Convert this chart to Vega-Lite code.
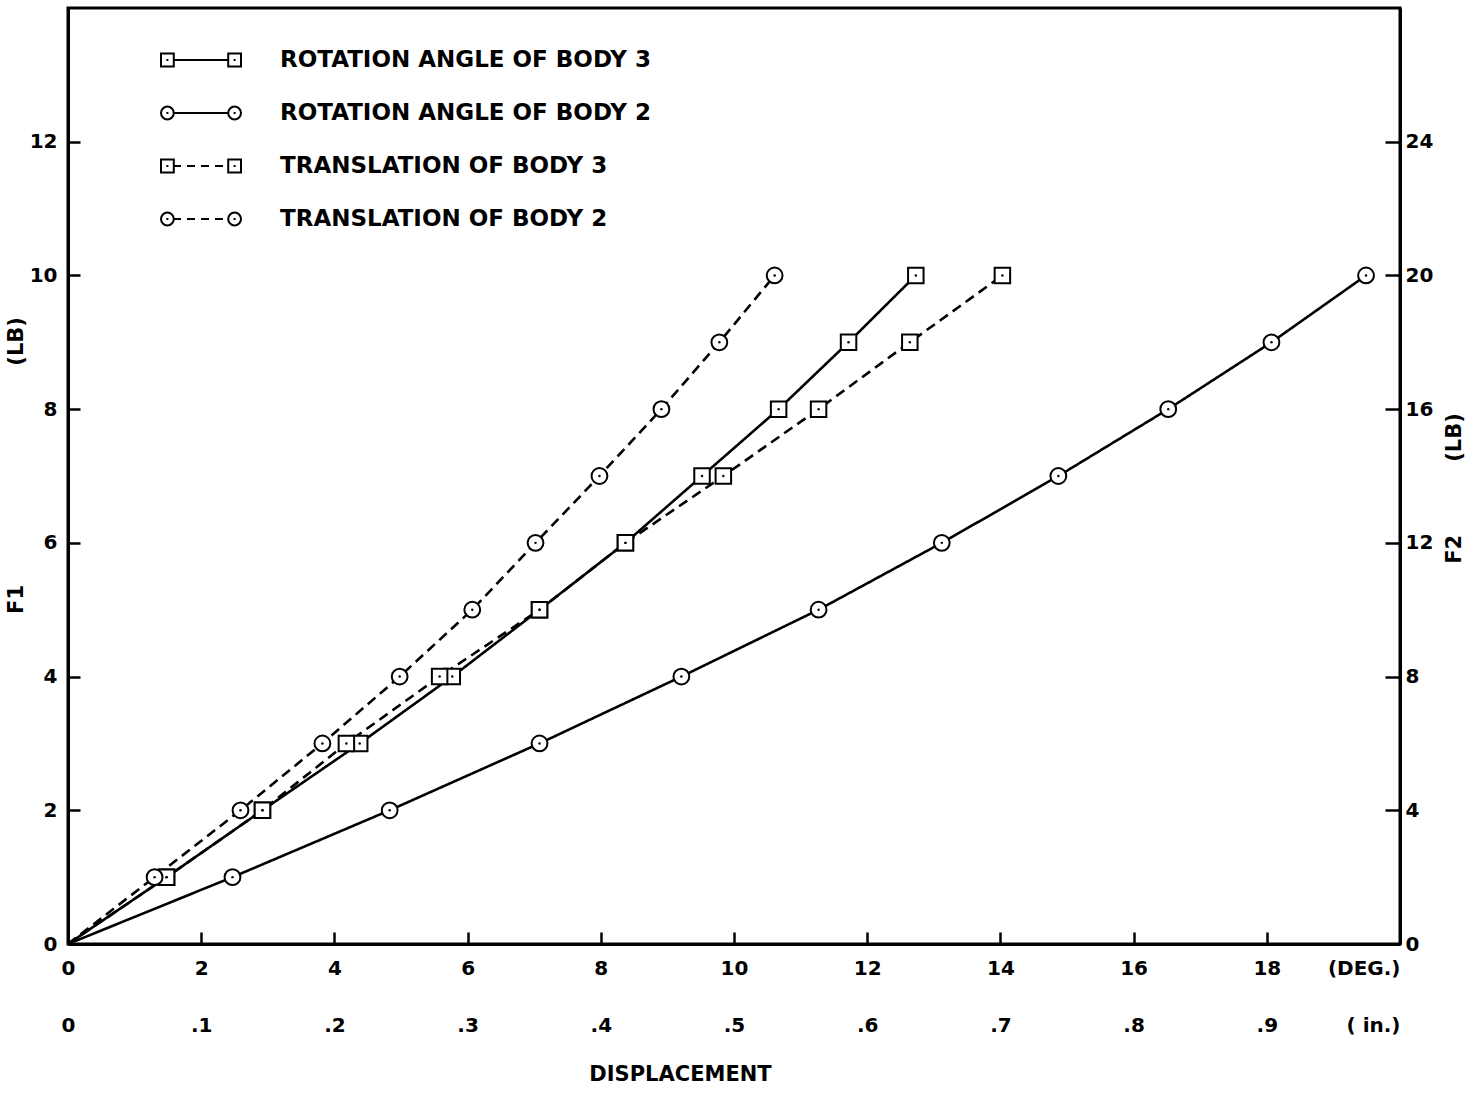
{
  "$schema": "https://vega.github.io/schema/vega-lite/v6.json",
  "width": 1332,
  "height": 936,
  "autosize": {"type": "none"},
  "padding": {"left": 68, "top": 8, "right": 75, "bottom": 150},
  "background": "white",
  "config": {
    "view": {"stroke": "black", "strokeWidth": 3},
    "font": "DejaVu Sans",
    "axis": {
      "domainColor": "black", "domainWidth": 3,
      "tickColor": "black", "tickWidth": 2.5,
      "labelColor": "black", "labelFont": "DejaVu Sans", "labelFontWeight": "bold", "labelFontSize": 20,
      "titleFont": "DejaVu Sans", "titleFontWeight": "bold", "titleFontSize": 21, "titleColor": "black",
      "grid": false
    },
    "legend": {
      "labelFont": "DejaVu Sans", "labelFontWeight": "bold", "labelFontSize": 23, "labelColor": "black", "labelLimit": 0
    }
  },
  "data": {
    "values": [
      {"series": "ROTATION ANGLE OF BODY 3", "x": 0, "F1": 0},
      {"series": "ROTATION ANGLE OF BODY 3", "x": 1.48, "F1": 1},
      {"series": "ROTATION ANGLE OF BODY 3", "x": 2.92, "F1": 2},
      {"series": "ROTATION ANGLE OF BODY 3", "x": 4.38, "F1": 3},
      {"series": "ROTATION ANGLE OF BODY 3", "x": 5.77, "F1": 4},
      {"series": "ROTATION ANGLE OF BODY 3", "x": 7.08, "F1": 5},
      {"series": "ROTATION ANGLE OF BODY 3", "x": 8.37, "F1": 6},
      {"series": "ROTATION ANGLE OF BODY 3", "x": 9.52, "F1": 7},
      {"series": "ROTATION ANGLE OF BODY 3", "x": 10.67, "F1": 8},
      {"series": "ROTATION ANGLE OF BODY 3", "x": 11.72, "F1": 9},
      {"series": "ROTATION ANGLE OF BODY 3", "x": 12.73, "F1": 10},
      {"series": "ROTATION ANGLE OF BODY 2", "x": 0, "F1": 0},
      {"series": "ROTATION ANGLE OF BODY 2", "x": 2.47, "F1": 1},
      {"series": "ROTATION ANGLE OF BODY 2", "x": 4.83, "F1": 2},
      {"series": "ROTATION ANGLE OF BODY 2", "x": 7.08, "F1": 3},
      {"series": "ROTATION ANGLE OF BODY 2", "x": 9.21, "F1": 4},
      {"series": "ROTATION ANGLE OF BODY 2", "x": 11.27, "F1": 5},
      {"series": "ROTATION ANGLE OF BODY 2", "x": 13.12, "F1": 6},
      {"series": "ROTATION ANGLE OF BODY 2", "x": 14.87, "F1": 7},
      {"series": "ROTATION ANGLE OF BODY 2", "x": 16.52, "F1": 8},
      {"series": "ROTATION ANGLE OF BODY 2", "x": 18.07, "F1": 9},
      {"series": "ROTATION ANGLE OF BODY 2", "x": 19.49, "F1": 10},
      {"series": "TRANSLATION OF BODY 3", "x": 0, "F1": 0},
      {"series": "TRANSLATION OF BODY 3", "x": 1.48, "F1": 1},
      {"series": "TRANSLATION OF BODY 3", "x": 2.92, "F1": 2},
      {"series": "TRANSLATION OF BODY 3", "x": 4.18, "F1": 3},
      {"series": "TRANSLATION OF BODY 3", "x": 5.58, "F1": 4},
      {"series": "TRANSLATION OF BODY 3", "x": 7.08, "F1": 5},
      {"series": "TRANSLATION OF BODY 3", "x": 8.37, "F1": 6},
      {"series": "TRANSLATION OF BODY 3", "x": 9.84, "F1": 7},
      {"series": "TRANSLATION OF BODY 3", "x": 11.27, "F1": 8},
      {"series": "TRANSLATION OF BODY 3", "x": 12.64, "F1": 9},
      {"series": "TRANSLATION OF BODY 3", "x": 14.03, "F1": 10},
      {"series": "TRANSLATION OF BODY 2", "x": 0, "F1": 0},
      {"series": "TRANSLATION OF BODY 2", "x": 1.30, "F1": 1},
      {"series": "TRANSLATION OF BODY 2", "x": 2.59, "F1": 2},
      {"series": "TRANSLATION OF BODY 2", "x": 3.82, "F1": 3},
      {"series": "TRANSLATION OF BODY 2", "x": 4.98, "F1": 4},
      {"series": "TRANSLATION OF BODY 2", "x": 6.07, "F1": 5},
      {"series": "TRANSLATION OF BODY 2", "x": 7.02, "F1": 6},
      {"series": "TRANSLATION OF BODY 2", "x": 7.98, "F1": 7},
      {"series": "TRANSLATION OF BODY 2", "x": 8.91, "F1": 8},
      {"series": "TRANSLATION OF BODY 2", "x": 9.78, "F1": 9},
      {"series": "TRANSLATION OF BODY 2", "x": 10.61, "F1": 10}
    ]
  },
  "encoding": {
    "x": {
      "field": "x", "type": "quantitative",
      "scale": {"domain": [0, 20], "nice": false, "zero": true},
      "axis": {
        "values": [0, 2, 4, 6, 8, 10, 12, 14, 16, 18, 20],
        "tickSize": -12,
        "labelPadding": 26,
        "labelLineHeight": 57,
        "labelExpr": "datum.value == 20 ? ['(DEG.)', '( in.)'] : datum.value == 0 ? ['0', '0'] : [datum.label, replace(format(datum.value / 20, '.1f'), '0.', '.')]",
        "labelAlign": {"condition": {"test": "datum.value == 20", "value": "right"}, "value": "center"},
        "labelFlush": false,
        "labelOverlap": false,
        "title": "DISPLACEMENT",
        "titlePadding": 28,
        "titleX": 612
      }
    }
  },
  "layer": [
    {
      "mark": {"type": "line", "color": "black", "strokeWidth": 2.6},
      "encoding": {
        "y": {
          "field": "F1", "type": "quantitative",
          "scale": {"domain": [0, 14], "nice": false},
          "axis": {
            "values": [0, 2, 4, 6, 8, 10, 12],
            "tickSize": -12,
            "labelPadding": 23,
            "labelFlush": false,
            "title": "F1\u00a0\u00a0\u00a0\u00a0\u00a0\u00a0\u00a0\u00a0\u00a0\u00a0\u00a0\u00a0\u00a0\u00a0\u00a0\u00a0\u00a0\u00a0\u00a0\u00a0\u00a0\u00a0\u00a0\u00a0\u00a0\u00a0\u00a0\u00a0\u00a0\u00a0(LB)",
            "titlePadding": 3,
            "titleY": 457
          }
        },
        "strokeDash": {
          "field": "series", "type": "nominal",
          "scale": {
            "domain": ["TRANSLATION OF BODY 3", "TRANSLATION OF BODY 2", "ROTATION ANGLE OF BODY 3", "ROTATION ANGLE OF BODY 2"],
            "range": [[10, 6], [10, 6], [1, 0], [1, 0]]
          },
          "legend": null
        },
        "order": {"field": "F1"}
      }
    },
    {
      "transform": [{"filter": "datum.F1 > 0 && indexof(datum.series, 'BODY 3') >= 0"}],
      "mark": {"type": "point", "shape": "square", "filled": true, "fill": "white", "stroke": "black", "strokeWidth": 2, "size": 240, "opacity": 1},
      "encoding": {
        "y": {"field": "F1", "type": "quantitative", "scale": {"domain": [0, 14], "nice": false}, "axis": null}
      }
    },
    {
      "transform": [{"filter": "datum.F1 > 0 && indexof(datum.series, 'BODY 2') >= 0"}],
      "mark": {"type": "point", "shape": "circle", "filled": true, "fill": "white", "stroke": "black", "strokeWidth": 2, "size": 250, "opacity": 1},
      "encoding": {
        "y": {"field": "F1", "type": "quantitative", "scale": {"domain": [0, 14], "nice": false}, "axis": null}
      }
    },
    {
      "transform": [{"filter": "datum.F1 > 0"}],
      "mark": {"type": "point", "filled": true, "color": "black", "shape": "circle", "size": 6, "opacity": 1},
      "encoding": {
        "y": {"field": "F1", "type": "quantitative", "scale": {"domain": [0, 14], "nice": false}, "axis": null}
      }
    },
    {
      "transform": [{"filter": "datum.F1 > 0"}],
      "mark": {"type": "point", "filled": false, "color": "black", "strokeWidth": 2, "opacity": 0},
      "encoding": {
        "y": {"field": "F1", "type": "quantitative", "scale": {"domain": [0, 14], "nice": false}, "axis": null},
        "shape": {
          "field": "series", "type": "nominal",
          "scale": {
            "domain": ["ROTATION ANGLE OF BODY 3", "ROTATION ANGLE OF BODY 2", "TRANSLATION OF BODY 3", "TRANSLATION OF BODY 2"],
            "range": [
              "M-2,-0.32H-1.36V0.32H-2Z M1.36,-0.32H2V0.32H1.36Z M-1.73,0H-1.63 M1.63,0H1.73 M-1.36,0H1.36",
              "M-1.36,0A0.32,0.32,0,1,1,-2,0A0.32,0.32,0,1,1,-1.36,0Z M2,0A0.32,0.32,0,1,1,1.36,0A0.32,0.32,0,1,1,2,0Z M-1.73,0H-1.63 M1.63,0H1.73 M-1.36,0H1.36",
              "M-2,-0.32H-1.36V0.32H-2Z M1.36,-0.32H2V0.32H1.36Z M-1.73,0H-1.63 M1.63,0H1.73 M-1.36,0H-1M-0.7,0H-0.3M0,0H0.4M0.7,0H1.1",
              "M-1.36,0A0.32,0.32,0,1,1,-2,0A0.32,0.32,0,1,1,-1.36,0Z M2,0A0.32,0.32,0,1,1,1.36,0A0.32,0.32,0,1,1,2,0Z M-1.73,0H-1.63 M1.63,0H1.73 M-1.36,0H-1M-0.7,0H-0.3M0,0H0.4M0.7,0H1.1"
            ]
          },
          "legend": {
            "title": null,
            "orient": "none",
            "legendX": 112,
            "legendY": 31,
            "padding": 0,
            "symbolSize": 1600,
            "symbolStrokeWidth": 2,
            "symbolStrokeColor": "black",
            "symbolFillColor": "transparent",
            "symbolOpacity": 1,
            "labelOffset": 58,
            "rowPadding": 20
          }
        }
      }
    },
    {
      "data": {"values": [{}]},
      "mark": {"type": "rule", "color": "black", "strokeWidth": 0},
      "encoding": {
        "x": {"datum": 0, "type": "quantitative"},
        "y": {
          "datum": 0, "type": "quantitative",
          "scale": {"domain": [0, 28], "nice": false},
          "axis": {
            "orient": "right",
            "values": [0, 4, 8, 12, 16, 20, 24],
            "tickSize": -15,
            "labelPadding": 20,
            "labelFlush": false,
            "title": "F2\u00a0\u00a0\u00a0\u00a0\u00a0\u00a0\u00a0\u00a0\u00a0\u00a0(LB)",
            "titleAngle": -90,
            "titlePadding": 32,
            "titleY": 480
          }
        }
      }
    }
  ],
  "resolve": {"scale": {"y": "independent"}, "axis": {"y": "independent"}}
}
